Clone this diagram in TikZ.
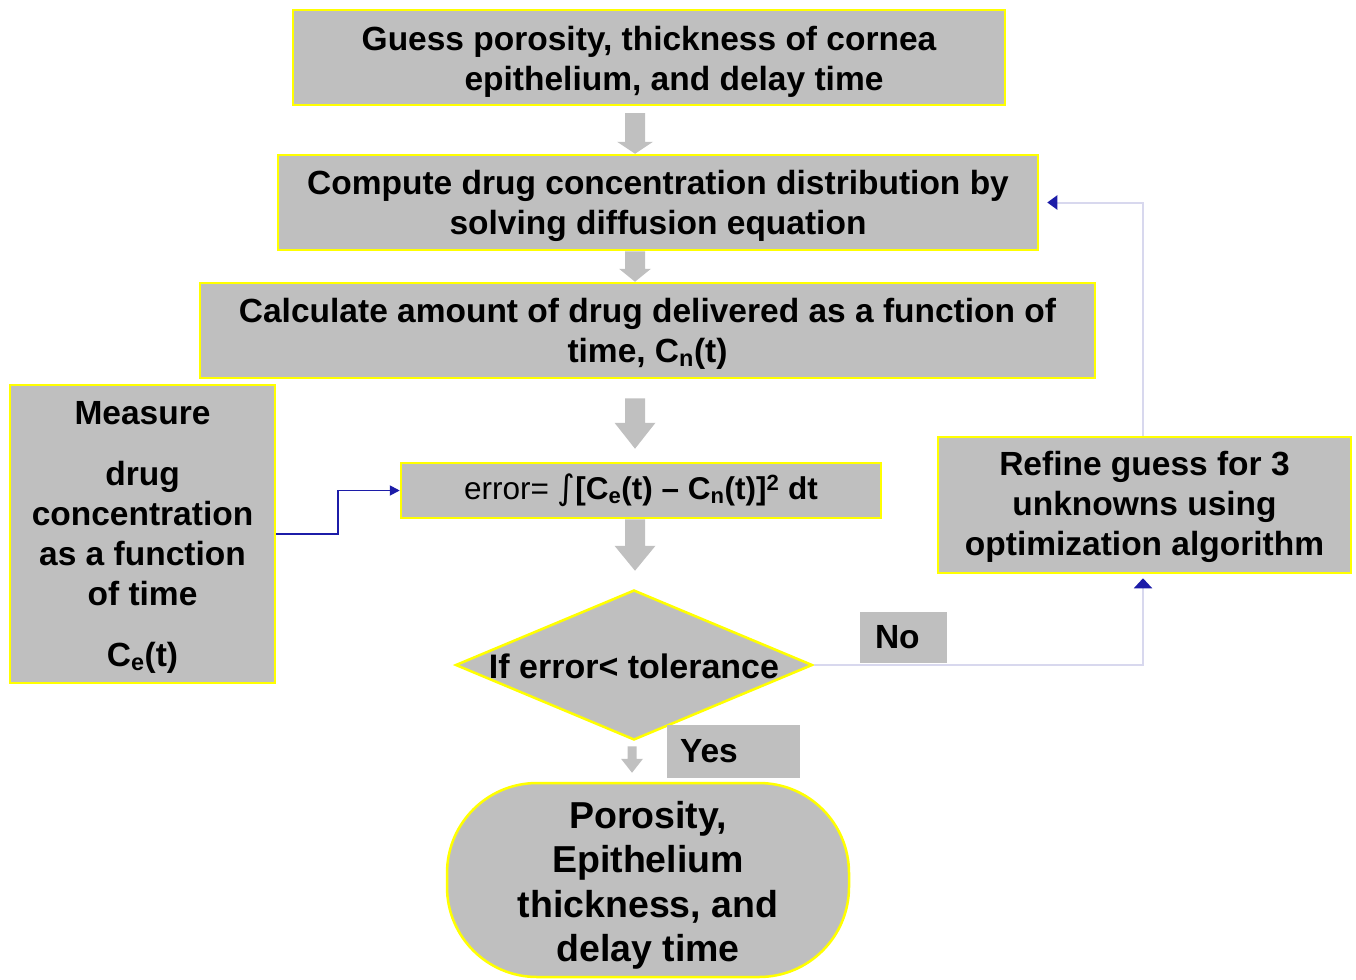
\documentclass[tikz,border=0pt]{standalone}
\usepackage{fontspec}
\setmainfont{Liberation Sans}
\usetikzlibrary{arrows.meta,shapes.geometric,calc}
\definecolor{boxgray}{HTML}{BFBFBF}
\definecolor{boxyellow}{HTML}{FFFF00}
\definecolor{linkblue}{HTML}{1C1CA8}
\definecolor{loopline}{HTML}{D8D8EE}
\definecolor{arrowgray}{HTML}{C0C0C0}
\newcommand{\blockarr}[5]{%
  \fill[arrowgray] let \p1=#1, \p2=#2 in
    (\x1-#3,\y1) -- (\x1+#3,\y1) -- (\x1+#3,\y2+#5) -- (\x1+#4,\y2+#5)
    -- (\x1,\y2) -- (\x1-#4,\y2+#5) -- (\x1-#3,\y2+#5) -- cycle;}
\newcommand{\tpad}[1]{\rule{0pt}{#1}}
\begin{document}
\begin{tikzpicture}[x=1pt,y=-1pt,
  box/.style={draw=boxyellow, line width=2.5pt, fill=boxgray, align=center,
    inner sep=0pt, font=\bfseries\fontsize{33.5}{40}\selectfont},
  tag/.style={fill=boxgray, inner ysep=0pt, align=left,
    font=\bfseries\fontsize{33.5}{38}\selectfont},
  link/.style={linkblue, line width=1.8pt},
  loop/.style={loopline, line width=2pt}]
\useasboundingbox (0,0) rectangle (1356,979);

\node[box, minimum width=712, minimum height=95] (b1) at (649,57.5)
  {\tpad{32pt}Guess porosity, thickness of cornea\\\hspace*{50pt}epithelium, and delay time};
\node[box, minimum width=760, minimum height=95] (b2) at (658,202.5)
  {\tpad{31pt}Compute drug concentration distribution by\\solving diffusion equation};
\node[box, minimum width=895, minimum height=95] (b3) at (647.5,330.5)
  {\tpad{31pt}Calculate amount of drug delivered as a function of\\time, C\textsubscript{n}(t)};
\node[box, minimum width=265, minimum height=298] (meas) at (142.5,534)
  {\tpad{29pt}Measure\\[21pt]drug\\concentration\\as a function\\of time\\[21pt]C\textsubscript{e}(t)};
\node[box, minimum width=480, minimum height=55, font=\fontsize{31.5}{36}\selectfont] (err) at (641,490.5)
  {error= {\fontspec{DejaVu Sans}\fontsize{34}{36}\selectfont\char"222B}\textbf{[C\textsubscript{e}(t) -- C\textsubscript{n}(t)]\textsuperscript{2} dt}};
\node[box, minimum width=413, minimum height=136] (ref) at (1144.5,505)
  {\tpad{29pt}Refine guess for 3\\unknowns using\\optimization algorithm};
\node[box, shape=diamond, minimum width=357, minimum height=150] (dia) at (634,665) {};
\node[font=\bfseries\fontsize{34}{38}\selectfont] (diatext) at (634,666) {If error< tolerance};
\node[tag, minimum height=51, text width=57pt, inner xsep=15pt] (no) at (903.5,637.5) {No};
\node[tag, minimum height=53, text width=107pt, inner xsep=13pt] (yes) at (733.5,751.5) {Yes};
\node[box, rounded corners=90pt, minimum width=402, minimum height=194,
  font=\bfseries\fontsize{37.5}{44.5}\selectfont] (term) at (648,880)
  {\tpad{37.5pt}Porosity,\\Epithelium\\thickness, and\\delay time};

% block arrows
\coordinate (ax) at (635,0);
\coordinate (ax5) at (632,0);
\blockarr{($(b1.south -| ax)+(0,7)$)}{(b2.north -| ax)}{10pt}{18pt}{12pt}
\blockarr{(b2.south -| ax)}{(b3.north -| ax)}{10pt}{16pt}{13pt}
\blockarr{($(b3.south -| ax)+(0,19)$)}{($(err.north -| ax)+(0,-13)$)}{10pt}{20.5pt}{26pt}
\blockarr{(err.south -| ax)}{($(dia.north -| ax)+(0,-18)$)}{10pt}{20.5pt}{25pt}
\blockarr{($(dia.south -| ax5)+(0,5)$)}{($(term.north -| ax5)+(0,-9)$)}{4.5pt}{11pt}{14pt}

% connectors
\coordinate (j1) at (338,0);
\draw[link, -{Triangle[length=10pt,width=10pt]}] (meas.east) -- (meas.east -| j1) |- (err.west);
\coordinate (j2) at (1143,0);
\draw[loop, -{Triangle[color=linkblue,length=10pt,width=18pt]}] (dia.east) -| ($(ref.south -| j2)+(0,4)$);
\draw[loop, -{Triangle[color=linkblue,length=10pt,width=14pt]}, shorten >=8pt] (ref.north -| j2) |- (b2.east);
\end{tikzpicture}
\end{document}
